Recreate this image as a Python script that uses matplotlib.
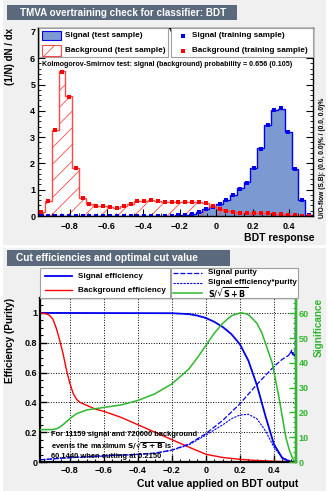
import numpy as np
import matplotlib.pyplot as plt
from matplotlib.patches import Rectangle
from matplotlib.lines import Line2D
from matplotlib.ticker import MultipleLocator

plt.rcParams['font.family'] = ['Liberation Sans', 'DejaVu Sans']
plt.rcParams['font.weight'] = 'bold'
plt.rcParams['mathtext.default'] = 'bf'
plt.rcParams['hatch.linewidth'] = 0.6

# ---------------- datos: respuesta BDT (40 bins) ----------------
bin_edges = np.linspace(-0.975, 0.525, 41)
sig_test = [0, 0, 0, 0, 0, 0, 0, 0, 0, 0, 0, 0, 0, 0, 0, 0, 0, 0, 0, 0.01,
            0.02, 0.05, 0.08, 0.16, 0.27, 0.37, 0.46, 0.60, 0.78, 1.05,
            1.28, 1.83, 2.57, 3.47, 4.05, 4.08, 3.20, 1.77, 0.60, 0.05]
bkg_test = [0.14, 0.58, 3.28, 5.50, 4.55, 1.83, 0.69, 0.45, 0.39, 0.39,
            0.35, 0.29, 0.37, 0.44, 0.57, 0.57, 0.59, 0.57, 0.54, 0.52,
            0.52, 0.54, 0.54, 0.54, 0.48, 0.39, 0.26, 0.19, 0.14, 0.13,
            0.11, 0.12, 0.11, 0.10, 0.08, 0.06, 0.04, 0.04, 0.01, 0.005]
sig_train = [0, 0, 0, 0, 0, 0, 0, 0, 0, 0, 0, 0, 0, 0, 0, 0, 0, 0, 0, 0.01,
             0.02, 0.05, 0.09, 0.15, 0.28, 0.36, 0.45, 0.61, 0.79, 1.04,
             1.27, 1.84, 2.55, 3.45, 4.03, 4.10, 3.18, 1.78, 0.61, 0.05]
bkg_train = [0.14, 0.58, 3.26, 5.47, 4.52, 1.82, 0.68, 0.45, 0.38, 0.39,
             0.35, 0.30, 0.37, 0.44, 0.57, 0.58, 0.59, 0.57, 0.54, 0.53,
             0.52, 0.54, 0.53, 0.54, 0.49, 0.38, 0.25, 0.19, 0.14, 0.13,
             0.12, 0.12, 0.11, 0.10, 0.08, 0.06, 0.04, 0.04, 0.01, 0.01]

# ---------------- datos: eficiencias vs corte ----------------
seff_x = [-0.975, -0.2, -0.1, -0.05, 0.0, 0.05, 0.1, 0.15, 0.2, 0.25, 0.3,
          0.35, 0.4, 0.45, 0.5, 0.53]
seff_y = [1.0, 0.998, 0.992, 0.982, 0.966, 0.94, 0.905, 0.858, 0.79, 0.68,
          0.516, 0.31, 0.12, 0.025, 0.001, 0.0]
beff_x = [-0.975, -0.94, -0.92, -0.9, -0.88, -0.86, -0.84, -0.82, -0.8,
          -0.78, -0.76, -0.74, -0.7, -0.65, -0.6, -0.5, -0.4, -0.3, -0.2,
          -0.1, 0.0, 0.1, 0.2, 0.3, 0.4, 0.5, 0.53]
beff_y = [1.0, 0.995, 0.985, 0.96, 0.9, 0.82, 0.73, 0.62, 0.53, 0.46, 0.42,
          0.40, 0.38, 0.355, 0.34, 0.30, 0.25, 0.20, 0.15, 0.10, 0.052,
          0.03, 0.018, 0.01, 0.005, 0.001, 0.0]
pur_x = [-0.975, -0.8, -0.6, -0.4, -0.3, -0.2, -0.1, 0.0, 0.1, 0.2, 0.3,
         0.35, 0.4, 0.45, 0.48, 0.49, 0.495, 0.5, 0.505, 0.51, 0.515, 0.52,
         0.525, 0.527]
pur_y = [0.015, 0.03, 0.042, 0.052, 0.06, 0.08, 0.12, 0.19, 0.28, 0.39,
         0.52, 0.58, 0.64, 0.69, 0.71, 0.72, 0.74, 0.73, 0.75, 0.72, 0.74,
         0.71, 0.73, 1.0]
effpur_x = [-0.975, -0.8, -0.6, -0.4, -0.3, -0.2, -0.1, 0.0, 0.05, 0.1,
            0.15, 0.2, 0.25, 0.3, 0.35, 0.4, 0.45, 0.5, 0.53]
effpur_y = [0.015, 0.028, 0.04, 0.05, 0.058, 0.078, 0.115, 0.18, 0.215,
            0.25, 0.29, 0.315, 0.32, 0.29, 0.21, 0.10, 0.03, 0.003, 0.0]
sig_x = [-0.975, -0.9, -0.87, -0.84, -0.8, -0.76, -0.7, -0.6, -0.5, -0.4,
         -0.3, -0.2, -0.15, -0.1, -0.05, 0.0, 0.05, 0.1, 0.15, 0.2, 0.215,
         0.25, 0.3, 0.33, 0.36, 0.39, 0.41, 0.43, 0.45, 0.47, 0.49, 0.51,
         0.525]
sig_y = [13.05, 13.1, 13.6, 15.0, 17.5, 19.5, 21.0, 22.0, 23.0, 24.8, 27.5,
         31.5, 34.5, 37.5, 42.0, 47.0, 52.0, 56.0, 59.0, 60.1, 60.14, 59.5,
         56.0, 52.0, 46.0, 40.0, 33.0, 26.0, 18.0, 10.0, 5.0, 1.5, 0.0]
max_sig = 60.144

W, H = 329, 491
panel_gray = '#f0f0f0'
title_col = '#5b697c'
blue = '#0000ee'
red = '#ff0000'
red_h = '#ff4a4a'
green = '#2eb82e'
x_labels = [-0.8, -0.6, -0.4, -0.2, 0, 0.2, 0.4]
sqrt_sb = r'$\mathbf{S/\sqrt{S+B}}$'


def fx(px):
    return px / W


def fy(py):
    return 1 - py / H


def box(fig, x0, y0, x1, y1, **kw):
    fig.add_artist(Rectangle((fx(x0), fy(y1)), fx(x1) - fx(x0), fy(y0) - fy(y1),
                             transform=fig.transFigure, **kw))


def lab(v):
    return ('%g' % v).replace('-', '\u2212')


fig = plt.figure(figsize=(W / 100, H / 100), dpi=100, facecolor='white')

# fondos de los dos paneles
box(fig, 3, 0, 326, 245, facecolor=panel_gray, edgecolor='none', zorder=-10)
box(fig, 3, 248, 326, 491, facecolor=panel_gray, edgecolor='none', zorder=-10)

# titulos
box(fig, 7, 5, 237, 20, facecolor=title_col, edgecolor='none')
fig.text(fx(20), fy(12.5), 'TMVA overtraining check for classifier: BDT',
         color='white', fontsize=7.1, ha='left', va='center')
box(fig, 7, 250, 230, 266, facecolor=title_col, edgecolor='none')
fig.text(fx(16), fy(258), 'Cut efficiencies and optimal cut value',
         color='white', fontsize=7.3, ha='left', va='center')

# ---------------- panel superior ----------------
ax = fig.add_axes([fx(38), fy(216), fx(313) - fx(38), fy(28) - fy(216)])
ax.stairs(sig_test, bin_edges, fill=True, facecolor='#7d99d1', edgecolor=blue,
          lw=1.0)
ax.stairs(bkg_test, bin_edges, fill=True, facecolor='none', edgecolor=red_h,
          hatch='//', lw=1.0)
centers = 0.5 * (bin_edges[1:] + bin_edges[:-1])
ax.plot(centers, sig_train, 's', color=blue, ms=2.2, mew=0)
ax.plot(centers, bkg_train, 's', color=red, ms=2.2, mew=0)
ax.set_xlim(-0.975, 0.53)
ax.set_ylim(0, 7.15)
ax.xaxis.set_major_locator(MultipleLocator(0.2))
ax.xaxis.set_minor_locator(MultipleLocator(0.05))
ax.yaxis.set_major_locator(MultipleLocator(1))
ax.yaxis.set_minor_locator(MultipleLocator(0.2))
ax.tick_params(which='both', direction='in', top=True, right=True,
               labelsize=6.5, pad=2)
ax.tick_params(which='major', length=5, width=0.8)
ax.tick_params(which='minor', length=2.5, width=0.6)
ax.set_xticklabels([])
for v in x_labels:
    ax.text(v, -0.22, lab(v), ha='center', va='top', fontsize=6.5)
for s in ax.spines.values():
    s.set_linewidth(1.0)
ax.set_facecolor('white')

fig.text(fx(10), fy(28), '(1/N) dN / dx', rotation=90, ha='center', va='top',
         fontsize=7)
fig.text(fx(314), fy(238), 'BDT response', ha='right', va='center', fontsize=7.5)
fig.text(fx(322), fy(158), 'U/O-flow (S,B): (0.0, 0.0)% / (0.0, 0.0)%',
         rotation=90, ha='center', va='center', fontsize=4.8)

# leyenda superior
box(fig, 39, 28, 168, 57, facecolor='white', edgecolor='#a0a0a0', lw=0.8)
box(fig, 171, 28, 313, 57, facecolor='white', edgecolor='#a0a0a0', lw=0.8)
box(fig, 42, 31, 61, 40, facecolor='#7d99d1', edgecolor=blue, lw=0.8)
box(fig, 42, 45, 61, 56, facecolor='none', edgecolor=red_h, hatch='//',
    lw=0.8)
fig.text(fx(65), fy(35.5), 'Signal (test sample)', fontsize=5.9, va='center')
fig.text(fx(65), fy(50.5), 'Background (test sample)', fontsize=5.9,
         va='center')
fig.add_artist(Line2D([fx(183)], [fy(35.5)], marker='s', ms=2.2, color=blue,
                      mew=0, transform=fig.transFigure))
fig.add_artist(Line2D([fx(183)], [fy(50.5)], marker='s', ms=2.2,
                      color=red, mew=0, transform=fig.transFigure))
fig.text(fx(192), fy(35.5), 'Signal (training sample)', fontsize=5.9,
         va='center')
fig.text(fx(192), fy(50.5), 'Background (training sample)', fontsize=5.9,
         va='center')
fig.text(fx(42), fy(65), 'Kolmogorov-Smirnov test: signal (background) '
         'probability = 0.656 (0.105)', fontsize=5.1, va='center')

# ---------------- panel inferior ----------------
bx = fig.add_axes([fx(40), fy(462), fx(296) - fx(40), fy(298) - fy(462)])
bx.set_facecolor('white')
bx.plot(seff_x, seff_y, color=blue, lw=1.3)
bx.plot(beff_x, beff_y, color=red, lw=1.0)
bx.plot(pur_x, pur_y, color=blue, lw=0.9, dashes=(4, 1.5))
bx.plot(effpur_x, effpur_y, color=blue, lw=0.8, dashes=(2, 1))
bx.set_xlim(-0.975, 0.53)
bx.set_ylim(0, 1.1)
bx.xaxis.set_major_locator(MultipleLocator(0.2))
bx.xaxis.set_minor_locator(MultipleLocator(0.05))
bx.yaxis.set_major_locator(MultipleLocator(0.2))
bx.yaxis.set_minor_locator(MultipleLocator(0.05))
bx.grid(True, which='major', ls=':', color='black', lw=0.7)
bx.tick_params(which='both', direction='in', labelsize=6.5, pad=2)
bx.tick_params(which='major', length=5, width=1.0)
bx.tick_params(which='minor', length=2.5, width=0.8)
bx.set_yticks([0, 0.2, 0.4, 0.6, 0.8, 1.0])
bx.set_yticklabels(['0', '0.2', '0.4', '0.6', '0.8', '1'])
bx.set_xticklabels([])
for v in x_labels:
    bx.text(v, -0.03, lab(v), ha='center', va='top', fontsize=6.5)
for s in bx.spines.values():
    s.set_linewidth(1.6)

bx2 = bx.twinx()
bx2.plot(sig_x, sig_y, color=green, lw=1.1)
bx2.set_ylim(0, 1.1 * max_sig)
bx2.yaxis.set_major_locator(MultipleLocator(10))
bx2.yaxis.set_minor_locator(MultipleLocator(2))
bx2.tick_params(which='both', direction='in', colors=green, labelsize=6.5,
                pad=2)
bx2.tick_params(which='major', length=5, width=1.0)
bx2.tick_params(which='minor', length=2.5, width=0.8)
bx2.spines['right'].set_color(green)
bx2.spines['right'].set_linewidth(1.6)
for k in ['top', 'left', 'bottom']:
    bx2.spines[k].set_visible(False)

bx.text(-0.91, 0.205, 'For 11159 signal and 720000 background\n'
        'events the maximum ' + sqrt_sb + ' is\n'
        '60.1440 when cutting at 0.2150', fontsize=5.4, va='top',
        linespacing=1.2, math_fontfamily='dejavusans')

fig.text(fx(298), fy(484), 'Cut value applied on BDT output', ha='right',
         va='center', fontsize=7.5)
fig.text(fx(10), fy(298), 'Efficiency (Purity)', rotation=90, ha='center',
         va='top', fontsize=7.2)
fig.text(fx(319), fy(298), 'Significance', rotation=90, ha='center', va='top',
         fontsize=7.2, color=green)

# leyenda inferior
box(fig, 40, 268, 170, 298, facecolor='white', edgecolor='#a0a0a0', lw=0.8)
box(fig, 171, 268, 298, 298, facecolor='white', edgecolor='#a0a0a0', lw=0.8)
fig.add_artist(Line2D([fx(45), fx(72)], [fy(276), fy(276)], color=blue, lw=1.3,
                      transform=fig.transFigure))
fig.add_artist(Line2D([fx(45), fx(72)], [fy(290), fy(290)], color=red,
                      lw=1.0, transform=fig.transFigure))
fig.text(fx(78), fy(276), 'Signal efficiency', fontsize=5.9, va='center')
fig.text(fx(78), fy(290), 'Background efficiency', fontsize=5.9, va='center')
fig.add_artist(Line2D([fx(173), fx(202)], [fy(273), fy(273)], color=blue,
                      lw=0.9, dashes=(4, 1.5), transform=fig.transFigure))
fig.add_artist(Line2D([fx(173), fx(202)], [fy(282.5), fy(282.5)], color=blue,
                      lw=0.8, dashes=(2, 1), transform=fig.transFigure))
fig.add_artist(Line2D([fx(173), fx(202)], [fy(292.5), fy(292.5)], color=green,
                      lw=1.1, transform=fig.transFigure))
fig.text(fx(208), fy(273), 'Signal purity', fontsize=5.8, va='center')
fig.text(fx(208), fy(282.5), 'Signal efficiency*purity', fontsize=5.8,
         va='center')
fig.text(fx(208), fy(292.5), sqrt_sb, fontsize=5.8, va='center',
         math_fontfamily='dejavusans')

fig.savefig('out.png', dpi=100)
